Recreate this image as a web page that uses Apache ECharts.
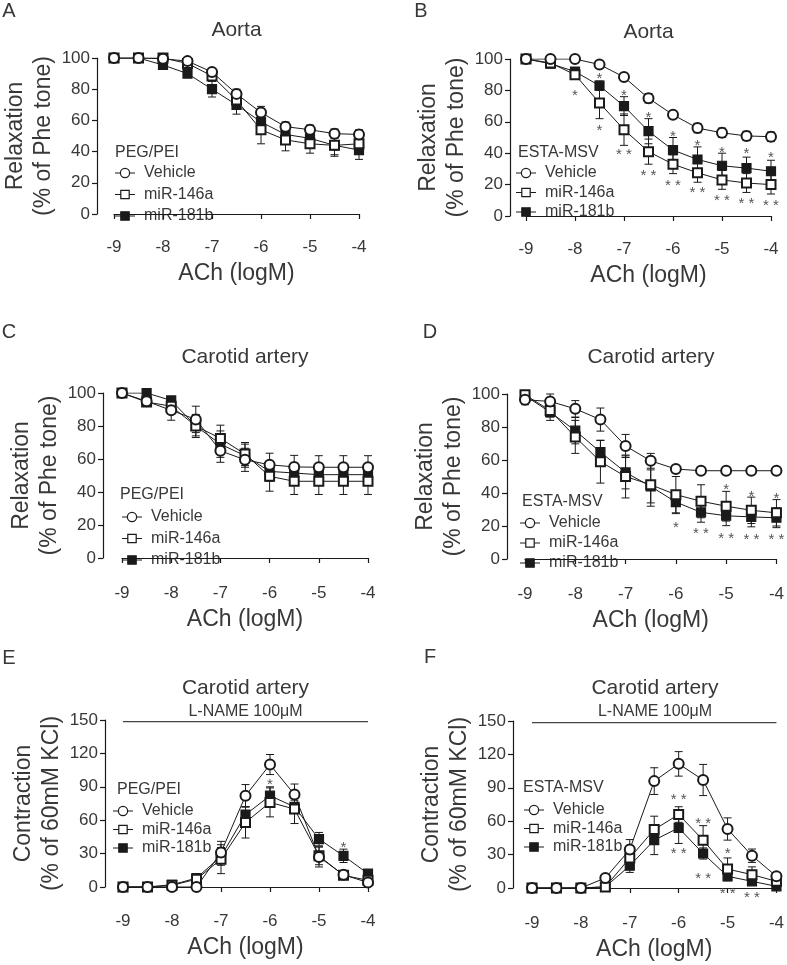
<!DOCTYPE html>
<html>
<head>
<meta charset="utf-8">
<script src="https://cdn.jsdelivr.net/npm/echarts@6/dist/echarts.min.js"></script>
<style>
	html, body { margin: 0; padding: 0; background: #fff; }
	#chart { width: 787px; height: 965px; }
</style>
</head>
<body>
<div id="chart"></div>
<script>
	const doses = [-9, -8.5, -8, -7.5, -7, -6.5, -6, -5.5, -5, -4.5, -4];
	const names = ['Vehicle', 'miR-146a', 'miR-181b'];

	// A - aorta, PEG/PEI
	const aVehicle = [100, 100, 99.5, 98, 91, 77, 65, 56, 54, 51.5, 51];
	const aVehicleSem = [0, 0, 1, 1.5, 2, 3, 4, 3, 3, 3, 3];
	const a146 = [100, 100, 100, 96.5, 88.5, 73, 54, 47.5, 45, 44, 45];
	const a146Sem = [0, 0, 1, 2, 3, 5, 9, 7, 6, 7, 4];
	const a181 = [100, 100, 95.5, 90, 80, 70, 59, 51, 48.5, 44, 41];
	const a181Sem = [0, 0, 1.5, 2, 5, 6, 5, 5, 5, 6, 6];
	const aStars = [];

	// B - aorta, ESTA-MSV
	const bVehicle = [100, 100, 100, 96.5, 88.5, 75, 64.5, 56, 53, 51, 50.5];
	const bVehicleSem = [0, 0, 0, 1, 1, 3, 2, 3, 3, 3, 3];
	const b146 = [100, 97.5, 90, 72, 55, 41, 33, 27.5, 23, 21, 20];
	const b146Sem = [0, 1, 3, 10, 10, 8, 6, 6, 6, 6, 6];
	const b181 = [100, 97, 92, 83, 70, 54, 42, 36, 32, 30.5, 28.5];
	const b181Sem = [0, 1, 2, 3, 6, 8, 8, 8, 8, 7, 7];
	const bStars = [
		[-8, 79, '*'], [-7.5, 90, '*'], [-7.5, 56.5, '*'], [-7, 79, '*'], [-7, 41.5, '* *'],
		[-6.5, 65, '*'], [-6.5, 28, '* *'], [-6, 52.7, '*'], [-6, 22, '* *'],
		[-5.5, 47, '*'], [-5.5, 17, '* *'], [-5, 42.5, '*'], [-5, 12.5, '* *'],
		[-4.5, 42, '*'], [-4.5, 10.5, '* *'], [-4, 39.5, '*'], [-4, 8.7, '* *']
	];

	// C - carotid, PEG/PEI
	const cVehicle = [100, 95, 89.5, 84, 65, 59.5, 56.5, 55.2, 55, 55, 55];
	const cVehicleSem = [0, 3, 6, 8, 7, 7, 7, 7, 7, 7, 7];
	const c146 = [100, 94.5, 92, 80, 72.5, 63, 49.5, 46.5, 46.5, 46.5, 46.5];
	const c146Sem = [0, 2, 4, 7, 8, 7, 9, 8, 8, 8, 8];
	const c181 = [100, 100, 95.5, 80, 69, 62, 52.5, 51.5, 50.5, 50.5, 50.5];
	const c181Sem = [0, 1, 2, 6, 8, 7, 6, 6, 6, 6, 6];
	const cStars = [];

	// D - carotid, ESTA-MSV
	const dVehicle = [96.5, 95.5, 91, 84.5, 68.5, 59.5, 54.5, 53.5, 53.5, 53.5, 53.5];
	const dVehicleSem = [3, 4.5, 5, 7, 7, 4.5, 2, 2, 2, 2, 2];
	const d146 = [99.5, 90, 74, 59, 50, 45, 39, 35, 32, 29.5, 28];
	const d146Sem = [1, 4, 10, 13, 13, 13, 11, 10, 9, 8, 8];
	const d181 = [99, 89, 77.8, 64.8, 52.5, 44, 34.5, 28.3, 26.2, 25.5, 25];
	const d181Sem = [1, 5, 8, 7, 10, 10, 7, 6, 6, 6, 6];
	const dStars = [
		[-6, 21, '*'], [-5.5, 17.5, '* *'], [-5, 44.3, '*'], [-5, 14.5, '* *'],
		[-4.5, 40.2, '*'], [-4.5, 14, '* *'], [-4, 39, '*'], [-4, 14, '* *']
	];

	// E - carotid + L-NAME, PEG/PEI
	const eVehicle = [0, 0, 0, 0, 31, 82, 110, 83, 27, 11, 4];
	const eVehicleSem = [0, 0, 0, 0, 10, 10, 9, 9.5, 9, 2, 2];
	const e146 = [0, 0, 1.5, 7, 25, 58, 76, 70, 28, 10.5, 6];
	const e146Sem = [0, 0, 1, 2, 13, 14, 13, 13, 8, 2, 2];
	const e181 = [0, 0, 2, 8, 27.5, 65, 82, 72, 43, 28, 12];
	const e181Sem = [0, 0, 1, 2, 8, 7, 8, 6, 6, 6, 2];
	const eStars = [[-6, 95, '*'], [-4.5, 39, '*']];

	// F - carotid + L-NAME, ESTA-MSV
	const fVehicle = [0, 0, 0, 9, 34.5, 96, 111.5, 97, 53, 29, 10.5];
	const fVehicleSem = [0, 0, 0, 2, 9, 12, 11, 14, 10, 6, 2];
	const f146 = [0, 0, 0, 1, 27, 52.5, 66, 43, 17, 12, 6];
	const f146Sem = [0, 0, 0, 1, 6, 12, 7, 13, 10, 7, 2];
	const f181 = [0, 0, 0, 1, 20, 43, 54, 31, 10.5, 6, 1.5];
	const f181Sem = [0, 0, 0, 1, 6, 13, 14, 5, 4, 3, 1];
	const fStars = [
		[-6, 82.5, '* *'], [-6, 34, '* *'], [-5.5, 61, '* *'], [-5.5, 12, '* *'],
		[-5, 34, '*'], [-5, -1.5, '* *'], [-4.5, -5, '* *']
	];

	const lNameLevel = 148.5;

	const FONT = 'Liberation Sans, Arial, sans-serif';
	const INK = '#1a1a1a';
	const TXT = '#383838';

	const panels = [
		{letter: 'A', title: 'Aorta', group: 'PEG/PEI', yName: 'Relaxation\n(% of Phe tone)', yMax: 100, yStep: 20,
			grid: {left: 114, top: 58, width: 245, height: 156}, xOff: 17, yOff: 17,
			letterPos: [9, 11], titleY: 30, head: [115, 153], leg: [115, 173, 21.5],
			series: [aVehicle, aVehicleSem, a146, a146Sem, a181, a181Sem], stars: aStars},
		{letter: 'B', title: 'Aorta', group: 'ESTA-MSV', yName: 'Relaxation\n(% of Phe tone)', yMax: 100, yStep: 20,
			grid: {left: 526, top: 59, width: 245, height: 157}, xOff: 17, yOff: 16,
			letterPos: [421, 11], titleY: 32, head: [518, 153], leg: [516, 173, 19.5],
			series: [bVehicle, bVehicleSem, b146, b146Sem, b181, b181Sem], stars: bStars},
		{letter: 'C', title: 'Carotid artery', group: 'PEG/PEI', yName: 'Relaxation\n(% of Phe tone)', yMax: 100, yStep: 20,
			grid: {left: 122, top: 393, width: 246, height: 165}, xOff: 19, yOff: 19,
			letterPos: [9, 332], titleY: 357, head: [120, 495], leg: [122, 517, 21.5],
			series: [cVehicle, cVehicleSem, c146, c146Sem, c181, c181Sem], stars: cStars},
		{letter: 'D', title: 'Carotid artery', group: 'ESTA-MSV', yName: 'Relaxation\n(% of Phe tone)', yMax: 100, yStep: 20,
			grid: {left: 525, top: 394, width: 252, height: 165}, xOff: 19, yOff: 18,
			letterPos: [430, 332], titleY: 357, head: [522, 502], leg: [520, 523, 20],
			series: [dVehicle, dVehicleSem, d146, d146Sem, d181, d181Sem], stars: dStars},
		{letter: 'E', title: 'Carotid artery', group: 'PEG/PEI', yName: 'Contraction\n(% of 60mM KCl)', yMax: 150, yStep: 30,
			grid: {left: 123, top: 720, width: 245, height: 167}, xOff: 18, yOff: 18,
			letterPos: [9, 658], titleY: 688, head: [117, 790], leg: [113, 811, 18.5], lName: true,
			series: [eVehicle, eVehicleSem, e146, e146Sem, e181, e181Sem], stars: eStars},
		{letter: 'F', title: 'Carotid artery', group: 'ESTA-MSV', yName: 'Contraction\n(% of 60mM KCl)', yMax: 150, yStep: 30,
			grid: {left: 532, top: 721, width: 246, height: 167}, xOff: 19, yOff: 19,
			letterPos: [430, 657], titleY: 688, head: [523, 788], leg: [524, 810, 18.5], lName: true,
			series: [fVehicle, fVehicleSem, f146, f146Sem, f181, f181Sem], stars: fStars}
	];

	const symbols = [
		{symbol: 'emptyCircle', size: 10},
		{symbol: 'emptyRect', size: 9},
		{symbol: 'rect', size: 9}
	];

	const errorBars = function (gi, mean, sem) {
		return {
			type: 'custom',
			xAxisIndex: gi,
			yAxisIndex: gi,
			z: 2,
			silent: true,
			animation: false,
			data: doses.map((d, i) => [d, mean[i] - sem[i], mean[i] + sem[i]]).filter(r => r[2] > r[1]),
			encode: {x: 0, y: [1, 2]},
			renderItem: function (params, api) {
				const lo = api.coord([api.value(0), api.value(1)]);
				const hi = api.coord([api.value(0), api.value(2)]);
				const cap = 4;
				const st = {stroke: INK, lineWidth: 1};
				return {
					type: 'group',
					children: [
						{type: 'line', shape: {x1: lo[0], y1: lo[1], x2: hi[0], y2: hi[1]}, style: st},
						{type: 'line', shape: {x1: lo[0] - cap, y1: lo[1], x2: lo[0] + cap, y2: lo[1]}, style: st},
						{type: 'line', shape: {x1: hi[0] - cap, y1: hi[1], x2: hi[0] + cap, y2: hi[1]}, style: st}
					]
				};
			}
		};
	};

	const starSeries = function (gi, stars) {
		return {
			type: 'custom',
			xAxisIndex: gi,
			yAxisIndex: gi,
			z: 6,
			silent: true,
			animation: false,
			data: stars.map(s => [s[0], s[1]]),
			renderItem: function (params, api) {
				const p = api.coord([api.value(0), api.value(1)]);
				return {
					type: 'text',
					x: p[0],
					y: p[1] + 4,
					style: {text: stars[params.dataIndex][2], font: '15px ' + FONT, fill: '#555', align: 'center', verticalAlign: 'middle'}
				};
			}
		};
	};

	// GraphPad style key: "-O-" icon + label, one row per group
	const legendRows = function (x0, y0, step) {
		let out = [];
		names.forEach(function (nm, k) {
			const y = y0 + k * step;
			const cx = x0 + 10;
			out.push({type: 'line', shape: {x1: x0, y1: y, x2: x0 + 20, y2: y}, style: {stroke: INK, lineWidth: 1}});
			if (k === 0) {
				out.push({type: 'circle', shape: {cx: cx, cy: y, r: 4.6}, style: {fill: '#fff', stroke: INK, lineWidth: 1.2}});
			} else {
				out.push({type: 'rect', shape: {x: cx - 4.2, y: y - 4.2, width: 8.4, height: 8.4},
					style: {fill: k === 2 ? INK : '#fff', stroke: INK, lineWidth: 1.2}});
			}
			out.push({type: 'text', x: x0 + 29, y: y,
				style: {text: nm, font: '16px ' + FONT, fill: TXT, align: 'left', verticalAlign: 'middle'}});
		});
		return out;
	};

	let option = {
		backgroundColor: '#fff',
		animation: false,
		grid: [], xAxis: [], yAxis: [], series: [], graphic: []
	};

	panels.forEach(function (p, gi) {
		option.grid.push(Object.assign({containLabel: false}, p.grid));
		option.xAxis.push({
			type: 'value', gridIndex: gi, min: -9, max: -4, interval: 1, offset: p.xOff,
			name: 'ACh (logM)', nameLocation: 'middle', nameGap: 31,
			nameTextStyle: {fontSize: 23, color: TXT, fontFamily: FONT},
			axisLine: {show: true, lineStyle: {color: INK, width: 1.2}},
			axisTick: {show: true, length: 5, lineStyle: {color: INK, width: 1.2}},
			axisLabel: {fontSize: 17, color: TXT, fontFamily: FONT, margin: 8},
			splitLine: {show: false}
		});
		option.yAxis.push({
			type: 'value', gridIndex: gi, min: 0, max: p.yMax, interval: p.yStep, offset: p.yOff,
			name: p.yName, nameLocation: 'middle', nameRotate: 90, nameGap: 36,
			nameTextStyle: {fontSize: 23, lineHeight: 28, color: TXT, fontFamily: FONT},
			axisLine: {show: true, lineStyle: {color: INK, width: 1.2}},
			axisTick: {show: true, length: 5, lineStyle: {color: INK, width: 1.2}},
			axisLabel: {fontSize: 17, color: TXT, fontFamily: FONT, margin: 7},
			splitLine: {show: false}
		});

		const s = p.series;
		// error bars first so the markers sit on top
		option.series.push(errorBars(gi, s[2], s[3]));
		option.series.push(errorBars(gi, s[4], s[5]));
		option.series.push(errorBars(gi, s[0], s[1]));
		[2, 1, 0].forEach(function (k) {
			option.series.push({
				type: 'line', name: names[k], xAxisIndex: gi, yAxisIndex: gi,
				data: doses.map((d, i) => [d, s[k * 2][i]]),
				symbol: symbols[k].symbol, symbolSize: symbols[k].size,
				lineStyle: {color: INK, width: 1},
				itemStyle: {color: INK, borderColor: INK, borderWidth: 1.2},
				z: 3 + (k === 0 ? 2 : 0), silent: true, animation: false
			});
		});
		if (p.stars.length) {
			option.series.push(starSeries(gi, p.stars));
		}
		if (p.lName) {
			option.series.push({
				type: 'line', xAxisIndex: gi, yAxisIndex: gi,
				data: [[-9, lNameLevel], [-4, lNameLevel]],
				symbol: 'none', lineStyle: {color: '#444', width: 1.2}, silent: true, animation: false
			});
			option.graphic.push({
				type: 'text', x: p.grid.left + p.grid.width / 2, y: p.titleY + 24,
				style: {text: 'L-NAME 100\u03bcM', font: '16px ' + FONT, fill: TXT, align: 'center', verticalAlign: 'middle'}
			});
		}

		option.graphic.push({type: 'group', children: legendRows(p.leg[0], p.leg[1], p.leg[2])});

		option.graphic.push({
			type: 'text', x: p.letterPos[0], y: p.letterPos[1],
			style: {text: p.letter, font: '20px ' + FONT, fill: TXT, align: 'center', verticalAlign: 'middle'}
		});
		option.graphic.push({
			type: 'text', x: p.grid.left + p.grid.width / 2, y: p.titleY,
			style: {text: p.title, font: '21px ' + FONT, fill: TXT, align: 'center', verticalAlign: 'middle'}
		});
		option.graphic.push({
			type: 'text', x: p.head[0], y: p.head[1],
			style: {text: p.group, font: '16px ' + FONT, fill: TXT, align: 'left', verticalAlign: 'middle'}
		});
	});

	const chart = echarts.init(document.getElementById('chart'), null, {renderer: 'canvas'});
	chart.setOption(option);
</script>
</body>
</html>
